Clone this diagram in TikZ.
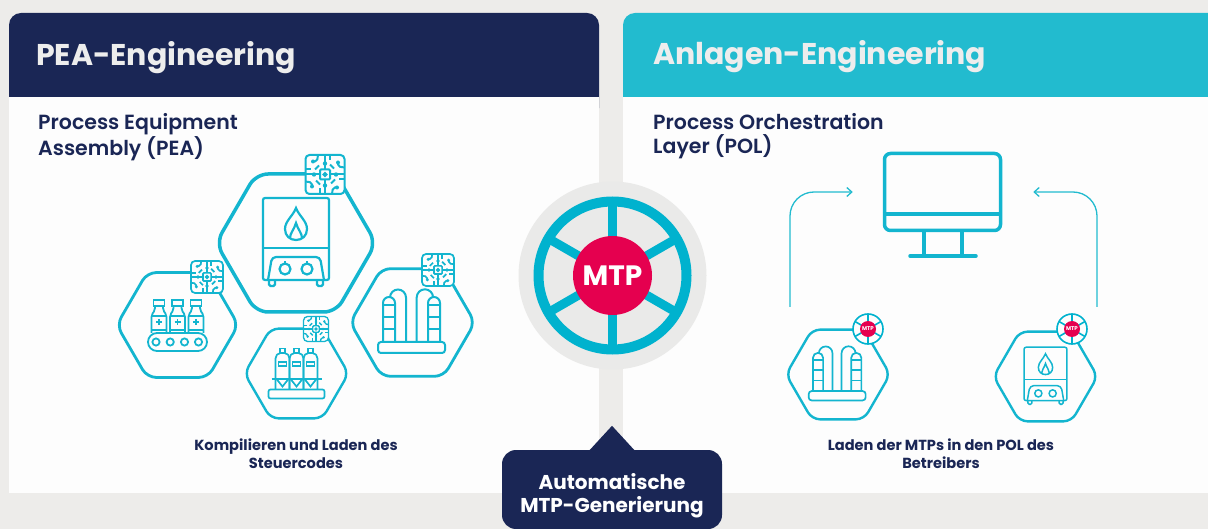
\documentclass[tikz,border=0pt]{standalone}
\usepackage{fontspec}
\setmainfont{Poppins}
\newfontfamily\semibold{Poppins SemiBold}
\usepackage{xcolor}
\usetikzlibrary{positioning, arrows.meta}

\definecolor{navy}{HTML}{1A2655}
\definecolor{aqua}{HTML}{22BBCF}
\definecolor{iconline}{HTML}{13B5CF}
\definecolor{wheel}{HTML}{00B2CE}
\definecolor{mtpred}{HTML}{E5004F}
\definecolor{page}{HTML}{EDECEA}
\definecolor{card}{HTML}{FDFDFD}
\definecolor{hub}{HTML}{EAEAE9}

\tikzset{
  hexa/.pic={
    \draw[rounded corners=#1] (-80,0) -- (-40,-69) -- (40,-69) -- (80,0) -- (40,69) -- (-40,69) -- cycle;
  },
  chip/.pic={
    \draw[fill=card, rounded corners=4] (-19.5,-19.5) rectangle (19.5,19.5);
    \foreach \a in {0,90,180,270} {
      \draw[rotate=\a] (0,-19.5) -- (0,-4);
      \fill[rotate=\a] (0,-11) circle (2.2);
      \draw[rotate=\a, rounded corners=2] (-19.5,-5) -- (-14,-5);
      \fill[rotate=\a] (-12,-13) circle (2);
      \draw[rotate=\a, rounded corners=2] (-12,-13) -- (-8,-13) -- (-7,-19.5);
      \draw[rotate=\a, rounded corners=2] (-10,-5) -- (-6,-9);
    }
    \draw[fill=card, rounded corners=1] (-5,-5) rectangle (5,5);
    \draw (0,0) circle (1.5);
  },
  boiler/.pic={
    \draw[rounded corners=2] (-33,-45) rectangle (33,37);
    \draw (-33,5) -- (33,5);
    \draw (0,-35) .. controls (-3,-27) and (-11,-22) .. (-11,-14) .. controls (-11,-7) and (-6,-3) .. (0,-3) .. controls (6,-3) and (11,-7) .. (11,-14) .. controls (11,-22) and (3,-27) .. (0,-35) -- cycle;
    \draw (-6,-5) .. controls (-6,-10) and (-2,-13) .. (0,-20) .. controls (2,-13) and (6,-10) .. (6,-5);
    \draw[rounded corners=4] (-28,37) -- (-24,14) -- (24,14) -- (28,37);
    \foreach \x in {-11,11} {
      \draw (\x,26) circle (5.5);
      \draw (\x,20.5) -- (\x,18.5);
    }
    \foreach \x in {-24,24} {
      \draw[rounded corners=1.5] (\x-3,37) -- (\x-3,43) -- (\x+3,43) -- (\x+3,37);
    }
  },
  bottles/.pic={
    \draw[rounded corners=9] (-29.5,8) rectangle (29.5,26);
    \foreach \x in {-21.5,-7.3,7,21} {
      \draw (\x,17) circle (3.6);
    }
    \foreach \x in {-18.5,0,18.5} {
      \draw (\x-5.5,-25) rectangle (\x+5.5,-19);
      \draw[rounded corners=2] (\x-7.5,8) -- (\x-7.5,-10) -- (\x-4,-15) -- (\x-4,-19) (\x+4,-19) -- (\x+4,-15) -- (\x+7.5,-10) -- (\x+7.5,8);
      \draw (\x-7.5,-9) -- (\x+7.5,-9);
      \draw (\x-7.5,5) -- (\x+7.5,5);
      \draw (\x-3,-3) -- (\x+3,-3) (\x,-6) -- (\x,0);
    }
  },
  columns/.pic={
    \draw[rounded corners=3] (-34.5,19.5) rectangle (32.5,30.5);
    \foreach \x in {-23.5,21.5} {
      \draw (\x-6,19.5) -- (\x-6,-19.5) arc[start angle=180, end angle=360, radius=6] -- (\x+6,19.5);
      \draw (\x-6,-17) -- (\x+6,-17);
      \draw (\x-6,-5) -- (\x+6,-5);
      \draw (\x-6,7) -- (\x+6,7);
    }
    \draw (-22.5,-25) arc[start angle=180, end angle=360, radius=8] -- (-6.5,19.5);
    \draw (4.2,19.5) -- (4.2,-25) arc[start angle=180, end angle=360, radius=8.2];
  },
  silos/.pic={
    \draw[rounded corners=2] (-28,16) rectangle (28,25);
    \draw (-25,5.5) -- (25,5.5);
    \foreach \x in {-14,0,14} {
      \draw[rounded corners=2] (\x-7,16) -- (\x-7,-17) -- (\x-4,-20.5) -- (\x+4,-20.5) -- (\x+7,-17) -- (\x+7,16);
      \draw (\x-2.5,-20.5) -- (\x-2.5,-25) -- (\x+2.5,-25) -- (\x+2.5,-20.5);
      \draw (\x-4,-11.5) rectangle (\x+4,-7.5);
      \draw (\x-6,5.5) -- (\x,13) -- (\x+6,5.5);
    }
  },
  badge/.pic={
    \draw[fill=card] (0,0) circle (15);
    \foreach \a in {30,90,150,210,270,330} {
      \draw (0,0) -- (\a:15);
    }
    \node[circle, fill=mtpred, text=white, inner sep=0pt, minimum size=16, font=\bfseries\fontsize{5.5}{6}\selectfont] (-label) at (0,0) {MTP};
  }
}

\begin{document}
\begin{tikzpicture}[x=1pt, y=-1pt]

% Styles for boxes
\tikzstyle{title} = [anchor=west, inner sep=0pt, text=white!93!black, font=\bfseries\fontsize{30}{33}\selectfont]
\tikzstyle{subtitle} = [anchor=north west, inner sep=0pt, align=left, text=navy, font=\semibold\fontsize{20.5}{24}\selectfont]
\tikzstyle{caption} = [align=center, text=navy, font=\bfseries\fontsize{14.6}{18}\selectfont]
\tikzstyle{callout} = [rectangle, fill=navy, rounded corners=14, minimum width=220, minimum height=79]
\tikzstyle{callouttext} = [align=center, text=white, font=\bfseries\fontsize{20}{23}\selectfont]
\tikzstyle{flow} = [aqua, line width=1.3pt, rounded corners=24, -{Straight Barb[length=5pt, width=9pt]}]

\useasboundingbox (0,0) rectangle (1208,529);
\clip (0,0) rectangle (1208,529);

% Panels
\fill[page] (0,0) rectangle (1208,529);
\fill[navy, rounded corners=12] (9,13) rectangle (599,120);
\fill[aqua, rounded corners=12] (623,13) rectangle (1240,120);
\fill[card] (9,97) rectangle (599,493);
\fill[card] (623,97) rectangle (1208,493);

% Titles
\node[title] (pea) at (36,58) {PEA-Engineering};
\node[title] (plant) at (653,57) {Anlagen-Engineering};
\node[subtitle] (peatext) at (38,113.5) {Process Equipment\\Assembly (PEA)};
\node[subtitle] (poltext) at (653,113.5) {Process Orchestration\\Layer (POL)};
\node[caption] (peacap) at (296,454) {Kompilieren und Laden des\\Steuercodes};
\node[caption] (polcap) at (941,454) {Laden der MTPs in den POL des\\Betreibers};

% Equipment on the left
\pic[color=iconline, line width=3.5pt] at (296,243) {hexa=12};
\pic[color=iconline, line width=2.2pt] at (296,243) {boiler};
\pic[color=iconline, line width=2pt] at (325,174.5) {chip};
\pic[color=iconline, line width=2.8pt, scale=.76] at (177.5,325) {hexa=9};
\pic[color=iconline, line width=1.8pt] at (177.5,325) {bottles};
\pic[color=iconline, line width=1.7pt, scale=.82] at (207,277) {chip};
\pic[color=iconline, line width=2.8pt, scale=.78] at (412.5,322.5) {hexa=9};
\pic[color=iconline, line width=2pt] at (412.5,322.5) {columns};
\pic[color=iconline, line width=1.7pt, scale=.82] at (438,270) {chip};
\pic[color=iconline, line width=2.4pt, scale=.65] at (296.5,373.5) {hexa=8};
\pic[color=iconline, line width=1.7pt] at (296.5,373.5) {silos};
\pic[color=iconline, line width=1.3pt, scale=.64] at (316,329) {chip};

% MTP wheel
\node[circle, fill=hub, minimum size=188, inner sep=0pt] (hubdisc) at (612.5,275.5) {};
\draw[wheel, line width=10pt] (hubdisc.center) circle (74);
\foreach \a in {30,90,150,210,270,330} {
  \draw[wheel, line width=9pt] (hubdisc.center) -- ++(\a:74);
}
\node[circle, fill=mtpred, text=white, minimum size=79, inner sep=0pt, font=\bfseries\fontsize{28}{30}\selectfont] (mtp) at (hubdisc.center) {MTP};

% Callout
\node[callout] (gen) at (612,489.5) {};
\fill[navy] ([xshift=-23,yshift=-1]gen.north) -- ([yshift=24]gen.north) -- ([xshift=23,yshift=-1]gen.north) -- cycle;
\node[callouttext] (gentext) at (612,495.5) {Automatische\\MTP-Generierung};

% Monitor
\node[rectangle, draw=iconline, line width=3.5pt, rounded corners=6, minimum width=116, minimum height=77, inner sep=0pt] (pol) at (942.5,192) {};
\draw[iconline, line width=3.5pt] (pol.west |- 0,214) -- (pol.east |- 0,214);
\draw[iconline, line width=3.5pt] (924,232) -- (924,256) (962,232) -- (962,256);
\draw[iconline, line width=3.5pt, line cap=round] (910,256) -- (976,256);

% Equipment on the right
\pic[color=iconline, line width=2.4pt, scale=.65] at (838,374.5) {hexa=8};
\pic[color=iconline, line width=1.7pt, scale=.85] at (838,374.5) {columns};
\pic[color=wheel, line width=1.6pt, transform shape] at (868,329) {badge};
\pic[color=iconline, line width=2.4pt, scale=.65] at (1045.5,376.5) {hexa=8};
\pic[color=iconline, line width=1.5pt, scale=.65] at (1045.5,376.5) {boiler};
\pic[color=wheel, line width=1.6pt, transform shape] at (1072,329) {badge};

% Edges
\coordinate (oilout) at (790,307);
\coordinate (boilout) at (1097,307);
\draw[flow] (oilout) |- ([xshift=-30]pol.west);
\draw[flow] (boilout) |- ([xshift=31]pol.east);

\end{tikzpicture}
\end{document}
